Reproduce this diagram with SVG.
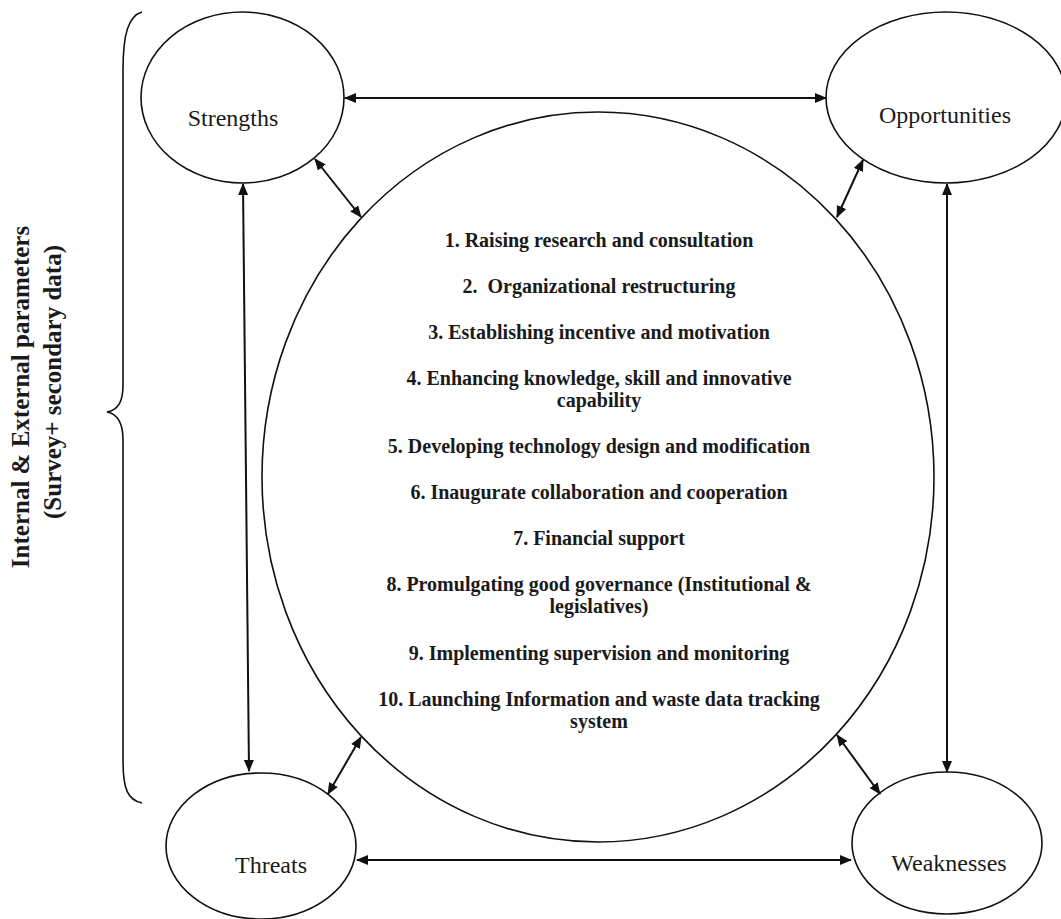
<svg xmlns="http://www.w3.org/2000/svg" width="1061" height="919" viewBox="0 0 1061 919">
  <style>
    .shape { fill: #ffffff; stroke: #111111; stroke-width: 1.6; }
    .label { font-family: "Liberation Serif", "Times New Roman", serif; font-size: 24px; fill: #1a1a1a; text-anchor: middle; }
    .item { font-family: "Liberation Serif", "Times New Roman", serif; font-size: 20px; font-weight: bold; fill: #1a1a1a; text-anchor: middle; }
    .side { font-family: "Liberation Serif", "Times New Roman", serif; font-size: 25px; font-weight: bold; fill: #1a1a1a; text-anchor: middle; }
    .conn { fill: none; stroke: #111111; stroke-width: 2; marker-start: url(#ah); marker-end: url(#ah); }
    .brace { fill: none; stroke: #111111; stroke-width: 1.6; }
  </style>
  <defs>
    <marker id="ah" viewBox="0 0 12 10" refX="11" refY="5" markerWidth="12" markerHeight="10" markerUnits="userSpaceOnUse" orient="auto-start-reverse">
      <path d="M0,0 L12,5 L0,10 z" fill="#111111"/>
    </marker>
  </defs>
  <rect x="0" y="0" width="1061" height="919" fill="#ffffff"/>

  <g id="brace">
    <path class="brace" d="M142,12 C128,16 123,35 123,70 L123,385 C123,402 118,410 107,412 C118,414 123,424 123,440 L123,760 C123,790 128,800 142,803"/>
    <text class="side" x="29" y="397" transform="rotate(-90 29 397)">Internal &amp; External parameters</text>
    <text class="side" x="61" y="382" transform="rotate(-90 61 382)">(Survey+ secondary data)</text>
  </g>

  <g id="center">
    <ellipse class="shape" cx="598" cy="477" rx="336" ry="365"/>
    <text class="item" x="599" y="247">1. Raising research and consultation</text>
    <text class="item" x="599" y="293" xml:space="preserve">2.  Organizational restructuring</text>
    <text class="item" x="599" y="339">3. Establishing incentive and motivation</text>
    <text class="item" x="599" y="385">4. Enhancing knowledge, skill and innovative</text>
    <text class="item" x="599" y="407">capability</text>
    <text class="item" x="599" y="453">5. Developing technology design and modification</text>
    <text class="item" x="599" y="499">6. Inaugurate collaboration and cooperation</text>
    <text class="item" x="599" y="545">7. Financial support</text>
    <text class="item" x="599" y="591">8. Promulgating good governance (Institutional &amp;</text>
    <text class="item" x="599" y="613">legislatives)</text>
    <text class="item" x="599" y="660">9. Implementing supervision and monitoring</text>
    <text class="item" x="599" y="706">10. Launching Information and waste data tracking</text>
    <text class="item" x="599" y="728">system</text>
  </g>

  <g id="strengths">
    <ellipse class="shape" cx="242.5" cy="97.5" rx="101.5" ry="85.5"/>
    <text class="label" x="233" y="126">Strengths</text>
  </g>

  <g id="opportunities">
    <ellipse class="shape" cx="946" cy="97.5" rx="120" ry="85.5"/>
    <text class="label" x="945" y="123">Opportunities</text>
  </g>

  <g id="threats">
    <ellipse class="shape" cx="261" cy="846" rx="95" ry="73"/>
    <text class="label" x="271" y="873">Threats</text>
  </g>

  <g id="weaknesses">
    <ellipse class="shape" cx="947" cy="843" rx="95" ry="71"/>
    <text class="label" x="949" y="871">Weaknesses</text>
  </g>

  <g id="connectors">
    <line class="conn" x1="345" y1="98" x2="826" y2="98"/>
    <line class="conn" x1="243" y1="184" x2="249" y2="771"/>
    <line class="conn" x1="947" y1="184" x2="947" y2="772"/>
    <line class="conn" x1="357" y1="860" x2="851" y2="860"/>
    <line class="conn" x1="315" y1="159" x2="361" y2="217"/>
    <line class="conn" x1="863" y1="160" x2="837" y2="217"/>
    <line class="conn" x1="361" y1="737" x2="328" y2="794"/>
    <line class="conn" x1="837" y1="735" x2="880" y2="794"/>
  </g>
</svg>
